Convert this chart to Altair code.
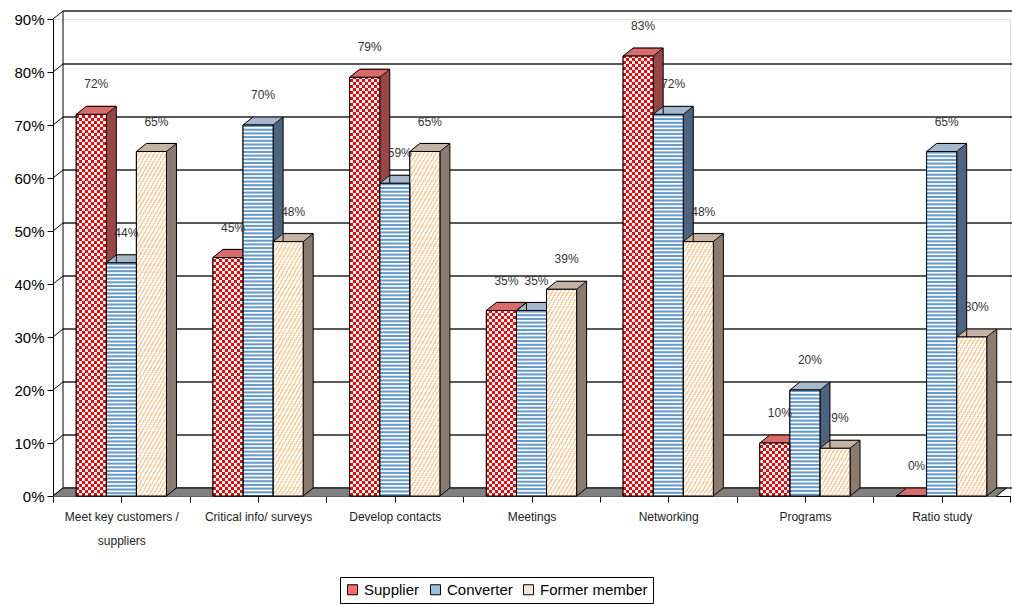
import json
import math
import altair as alt
import pandas as pd

# ---------------- data ----------------
categories = ["Meet key customers / suppliers", "Critical info/ surveys", "Develop contacts",
              "Meetings", "Networking", "Programs", "Ratio study"]
series = ["Supplier", "Converter", "Former member"]
supplier = [72, 45, 79, 35, 83, 10, 0]
converter = [44, 70, 59, 35, 72, 20, 65]
former = [65, 48, 65, 39, 48, 9, 30]
y_ticks = [0, 10, 20, 30, 40, 50, 60, 70, 80, 90]

rows = []
for ci, cat in enumerate(categories):
    for si, vals in enumerate([supplier, converter, former]):
        rows.append({"cat": cat, "series": series[si], "value": vals[ci], "ci": ci, "si": si})
df = pd.DataFrame(rows)
tdf = pd.DataFrame({"t": y_ticks})
one = pd.DataFrame({"a": [0]})

# ---------------- styles ----------------
front_colors = ["#FF6A6A", "#9FBFE0", "#FFE6CC"]
side_colors = ["#984646", "#4E6480", "#8C7B6E"]
top_colors = ["#DA6C6C", "#A8B8CC", "#C4B4A4"]
FONT = "Liberation Sans"
W, H = 957, 477
DX, DY = 10, 8
NCAT = len(categories)
BAR = 0.22
BAR_PX = BAR * W / NCAT
PX = 90.0 / H                  # one pixel in data units
CHECK = 3.0 * PX               # checker square height
STRIPE = 3.7 * PX              # converter stripe period

# diagonal hatch of the "Former member" bars (lines a*x + b*y = c, about 60 degrees)
HA, HB = math.cos(math.radians(30)), math.sin(math.radians(30))
HPER = 4.0 * HA                # period along the normal (4 px horizontally)
HROW_PX = HPER / HB            # row height keeping the hatch continuous
HROW = HROW_PX * PX

xscale = alt.Scale(domain=[0, NCAT], nice=False, zero=False)
yscale = alt.Scale(domain=[0, 90], nice=False, zero=True)


def wrap(name):
    if len(name) > 22 and "/ " in name:
        i = name.index("/ ") + 1
        return [name[:i], name[i + 1:]]
    return name


label_arr = json.dumps([wrap(c) for c in categories])
xaxis = alt.Axis(values=[i * 0.5 for i in range(2 * NCAT + 1)],
                 labelExpr=f"(round(datum.value*2) % 2 == 1) ? {label_arr}[floor(datum.value)] : ''",
                 title=None, grid=False, tickSize=6, tickColor="black", domainColor="black",
                 labelFontSize=12, labelColor="#222", labelFont=FONT, labelPadding=9,
                 labelLineHeight=24, labelBaseline="top", labelOverlap=False, labelFlush=False)
yaxis = alt.Axis(values=y_ticks, labelExpr="datum.value + '%'", title=None, grid=False,
                 tickSize=6, tickColor="black", domainColor="black", labelFontSize=15,
                 labelColor="black", labelFont=FONT, labelPadding=3)


def X(field=None, datum=None):
    if field is not None:
        return alt.X(field, type="quantitative", scale=xscale, axis=xaxis)
    return alt.X(datum=datum, type="quantitative", scale=xscale, axis=xaxis)


def Y(field=None, datum=None):
    if field is not None:
        return alt.Y(field, type="quantitative", scale=yscale, axis=yaxis)
    return alt.Y(datum=datum, type="quantitative", scale=yscale, axis=yaxis)


def vstripes(c1, c2, period=3.0):
    n = max(1, round(BAR_PX / period))
    stops = []
    for k in range(n):
        c = c1 if k % 2 == 0 else c2
        stops += [{"offset": round(k / n, 6), "color": c}, {"offset": round((k + 1) / n, 6), "color": c}]
    return {"gradient": "linear", "x1": 0, "y1": 0, "x2": 1, "y2": 0, "stops": stops}


def hatch(c_line, c_bg, frac=0.42):
    w, h = BAR_PX, HROW_PX
    cmax = HA * w + HB * h
    k = cmax / (HA * HA * w * w + HB * HB * h * h)
    stops = []
    j = 0
    while j * HPER < cmax:
        a = j * HPER / cmax
        m = min(1.0, (j + 1 - frac) * HPER / cmax)
        b = min(1.0, (j + 1) * HPER / cmax)
        stops += [{"offset": round(a, 6), "color": c_bg}, {"offset": round(m, 6), "color": c_bg},
                  {"offset": round(m, 6), "color": c_line}, {"offset": round(b, 6), "color": c_line}]
        j += 1
    return {"gradient": "linear", "x1": 0, "y1": 0, "x2": round(k * HA * w, 6),
            "y2": round(k * HB * h, 6), "stops": stops}


layers = []

# back wall gridlines and connectors
layers.append(alt.Chart(tdf).mark_rule(color="#222", strokeWidth=1.3, xOffset=DX, x2Offset=DX, yOffset=-DY)
              .encode(x=X(datum=0), x2=alt.X2(datum=NCAT + 0.2), y=Y("t")))
layers.append(alt.Chart(tdf).mark_rule(color="black", strokeWidth=1, x2Offset=DX, y2Offset=-DY)
              .encode(x=X(datum=0), x2=alt.X2(datum=0), y=Y("t"), y2=alt.Y2("t")))
layers.append(alt.Chart(one).mark_rule(color="black", strokeWidth=1, xOffset=DX, yOffset=-DY, y2Offset=-DY)
              .encode(x=X(datum=0), y=Y(datum=0), y2=alt.Y2(datum=90)))

# floor
FLOOR_END = NCAT - 0.1
for i in range(DX + 1):
    layers.append(alt.Chart(one).mark_rule(color="#808080", strokeWidth=1.6, xOffset=i, x2Offset=i,
                                           yOffset=-0.8 * i)
                  .encode(x=X(datum=0), x2=alt.X2(datum=FLOOR_END), y=Y(datum=0)))
layers.append(alt.Chart(one).mark_rule(color="black", strokeWidth=1, xOffset=DX, x2Offset=DX, yOffset=-DY)
              .encode(x=X(datum=0), x2=alt.X2(datum=FLOOR_END), y=Y(datum=0)))
for xv in [0, FLOOR_END]:
    layers.append(alt.Chart(one).mark_rule(color="black", strokeWidth=1, x2Offset=DX, y2Offset=-DY)
                  .encode(x=X(datum=xv), x2=alt.X2(datum=xv), y=Y(datum=0), y2=alt.Y2(datum=0)))

# bars
base = alt.Chart(df).transform_calculate(
    x0=f"datum.ci + 0.17 + datum.si * {BAR}"
).transform_calculate(
    x1=f"datum.x0 + {BAR}", xc=f"datum.x0 + {BAR / 2}",
    side_c=f"{json.dumps(side_colors)}[datum.si]",
    top_c=f"{json.dumps(top_colors)}[datum.si]",
    label="datum.value + '%'",
)

for i in range(DX, 0, -1):
    layers.append(base.mark_rect(xOffset=i, x2Offset=i, yOffset=-0.8 * i, y2Offset=-0.8 * i)
                  .encode(x=X("x0"), x2=alt.X2("x1"), y=Y("value"), y2=alt.Y2(datum=0),
                          fill=alt.Fill("side_c:N", scale=None)))
for i in range(DX, -1, -1):
    layers.append(base.mark_rule(strokeWidth=1.6, xOffset=i, x2Offset=i, yOffset=-0.8 * i)
                  .encode(x=X("x0"), x2=alt.X2("x1"), y=Y("value"),
                          stroke=alt.Stroke("top_c:N", scale=None)))
# outlines of the 3D boxes
layers.append(base.mark_rule(color="black", strokeWidth=1, xOffset=DX, x2Offset=DX, yOffset=-DY)
              .encode(x=X("x0"), x2=alt.X2("x1"), y=Y("value")))
layers.append(base.mark_rule(color="black", strokeWidth=1, xOffset=DX, yOffset=-DY, y2Offset=-DY)
              .encode(x=X("x1"), y=Y("value"), y2=alt.Y2(datum=0)))
for fx in ["x0", "x1"]:
    layers.append(base.mark_rule(color="black", strokeWidth=1, x2Offset=DX, y2Offset=-DY)
                  .encode(x=X(fx), x2=alt.X2(fx), y=Y("value"), y2=alt.Y2("value")))
layers.append(base.mark_rule(color="black", strokeWidth=1, x2Offset=DX, y2Offset=-DY)
              .encode(x=X("x1"), x2=alt.X2("x1"), y=Y(datum=0), y2=alt.Y2(datum=0)))

# front faces (carry the legend)
layers.append(base.mark_rect(stroke="black", strokeWidth=1)
              .encode(x=X("x0"), x2=alt.X2("x1"), y=Y("value"), y2=alt.Y2(datum=0),
                      fill=alt.Fill("series:N", scale=alt.Scale(domain=series, range=front_colors),
                                    legend=alt.Legend(orient="none", legendX=287, legendY=558,
                                                      direction="horizontal", title=None,
                                                      symbolType="square", symbolSize=100,
                                                      symbolStrokeColor="black", symbolStrokeWidth=1,
                                                      labelFontSize=15, labelFont=FONT,
                                                      labelColor="black", strokeColor="black",
                                                      fillColor="white", padding=5,
                                                      columnPadding=8, labelOffset=4))))

# supplier: red / white checkerboard, built row by row
sup_rows = base.transform_filter("datum.si == 0 && datum.value > 0").transform_calculate(
    rows=f"sequence(0, ceil(datum.value / {CHECK}))"
).transform_flatten(["rows"]).transform_calculate(
    r0=f"datum.rows * {CHECK}", r1=f"min(datum.value, (datum.rows + 1) * {CHECK})"
)
for parity, (c1, c2) in enumerate([("#FF0000", "#FFFFFF"), ("#FFFFFF", "#FF0000")]):
    layers.append(sup_rows.transform_filter(f"datum.rows % 2 == {parity}")
                  .mark_rect(fill=vstripes(c1, c2), strokeWidth=0)
                  .encode(x=X("x0"), x2=alt.X2("x1"), y=Y("r0"), y2=alt.Y2("r1")))

# converter: blue horizontal stripes on white
layers.append(base.transform_filter("datum.si == 1").mark_rect(fill="white", strokeWidth=0)
              .encode(x=X("x0"), x2=alt.X2("x1"), y=Y("value"), y2=alt.Y2(datum=0)))
conv_rows = base.transform_filter("datum.si == 1 && datum.value > 0").transform_calculate(
    rows=f"sequence(0, ceil(datum.value / {STRIPE}))"
).transform_flatten(["rows"]).transform_calculate(
    s1=f"datum.value - datum.rows * {STRIPE}"
).transform_calculate(
    s0=f"max(0, datum.s1 - {0.55 * STRIPE})"
)
layers.append(conv_rows.mark_rect(fill="#6699CC", strokeWidth=0)
              .encode(x=X("x0"), x2=alt.X2("x1"), y=Y("s1"), y2=alt.Y2("s0")))

# former member: peach diagonal hatch, built in rows of equal height
form_rows = base.transform_filter("datum.si == 2 && datum.value > 0").transform_calculate(
    rows=f"sequence(0, ceil(datum.value / {HROW}))"
).transform_flatten(["rows"]).transform_calculate(
    h1=f"datum.value - datum.rows * {HROW}"
).transform_calculate(
    h0=f"max(0, datum.h1 - {HROW})"
)
layers.append(form_rows.mark_rect(fill=hatch("#FFCC99", "#FFFFFF"), strokeWidth=0)
              .encode(x=X("x0"), x2=alt.X2("x1"), y=Y("h1"), y2=alt.Y2("h0")))

# outlines of the front faces
layers.append(base.mark_rect(filled=False, stroke="black", strokeWidth=1)
              .encode(x=X("x0"), x2=alt.X2("x1"), y=Y("value"), y2=alt.Y2(datum=0)))

# value labels
layers.append(base.mark_text(fontSize=12, font=FONT, color="#333", dx=5, dy=-30, baseline="middle")
              .encode(x=X("xc"), y=Y("value"), text=alt.Text("label:N")))

chart = alt.layer(*layers).properties(
    width=W, height=H,
    padding={"left": 53, "top": 19, "right": 1012 - 53 - W, "bottom": 605 - 19 - H},
    autosize="none",
).configure_view(stroke=None).configure(font=FONT)

chart.save("out.html", embed_options={"renderer": "svg", "actions": False})
